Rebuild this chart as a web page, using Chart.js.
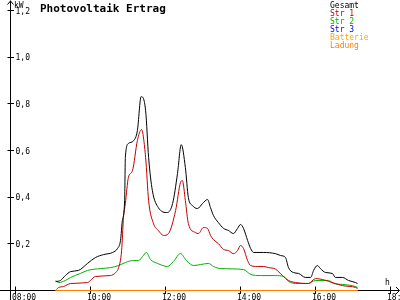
<!DOCTYPE html>
<html>
<head>
<meta charset="utf-8">
<script src="https://cdn.jsdelivr.net/npm/chart.js@4/dist/chart.umd.min.js"></script>
<style>
html,body{margin:0;padding:0;background:#fff;}
canvas{display:block;}
</style>
</head>
<body>
<canvas id="c" width="400" height="300"></canvas>
<script>
// ---- data (hours, kW) ----
const gesamtT = [9.07,9.2,9.33,9.47,9.68,9.92,10.13,10.35,10.59,10.72,10.8,10.85,10.91,10.93,11.01,11.15,11.25,11.35,11.47,11.55,11.65,11.81,12.05,12.19,12.32,12.42,12.53,12.61,12.72,12.85,12.99,13.12,13.2,13.28,13.41,13.55,13.68,13.81,13.92,14.0,14.08,14.19,14.27,14.35,14.61,14.93,15.07,15.2,15.28,15.41,15.55,15.73,15.87,15.95,16.05,16.13,16.27,16.45,16.53,16.72,16.88,17.07,17.12];
const gesamtV = [0.038,0.043,0.064,0.081,0.086,0.116,0.141,0.154,0.163,0.180,0.214,0.300,0.385,0.570,0.630,0.642,0.685,0.831,0.771,0.570,0.428,0.355,0.334,0.373,0.501,0.625,0.527,0.398,0.364,0.351,0.373,0.390,0.355,0.321,0.291,0.266,0.257,0.244,0.266,0.283,0.266,0.214,0.180,0.163,0.163,0.158,0.150,0.141,0.098,0.077,0.073,0.056,0.056,0.086,0.107,0.094,0.077,0.073,0.056,0.056,0.043,0.034,0.030];

const str1T = [9.09,9.15,9.28,9.47,9.92,10.0,10.13,10.53,10.67,10.75,10.83,10.88,10.93,11.01,11.12,11.25,11.36,11.47,11.55,11.68,11.81,11.95,12.08,12.27,12.4,12.45,12.53,12.61,12.8,12.88,13.01,13.12,13.2,13.28,13.41,13.55,13.68,13.81,13.92,14.0,14.08,14.19,14.27,14.45,14.61,14.75,14.93,15.12,15.28,15.47,15.81,16.0,16.19,16.35,16.53,16.72,17.07,17.12];
const str1V = [0.004,0.013,0.017,0.030,0.034,0.043,0.060,0.064,0.077,0.098,0.171,0.313,0.373,0.484,0.514,0.642,0.690,0.570,0.385,0.287,0.257,0.236,0.244,0.343,0.463,0.471,0.385,0.287,0.248,0.244,0.270,0.266,0.236,0.218,0.201,0.176,0.171,0.158,0.171,0.193,0.180,0.128,0.107,0.103,0.103,0.098,0.092,0.064,0.043,0.034,0.030,0.051,0.047,0.039,0.030,0.021,0.013,0.009];

const str2T = [9.07,9.15,9.33,9.47,9.73,9.92,10.27,10.53,10.75,10.93,11.12,11.28,11.39,11.49,11.6,11.79,12.05,12.21,12.4,12.56,12.75,12.93,13.15,13.28,13.47,14.08,14.27,14.53,14.93,15.15,15.28,15.47,15.81,16.0,16.35,16.48,16.72,17.07,17.12];
const str2V = [0.043,0.034,0.043,0.056,0.073,0.086,0.094,0.098,0.107,0.120,0.128,0.128,0.146,0.163,0.133,0.116,0.103,0.124,0.158,0.128,0.107,0.111,0.116,0.103,0.094,0.090,0.069,0.064,0.064,0.060,0.039,0.030,0.030,0.043,0.043,0.030,0.026,0.017,0.013];

const str3T = [9.07,17.12];
const str3V = [0,0];
const batterieT = [9.07,17.12];
const batterieV = [0,0];
const ladungT = [9.07,17.12];
const ladungV = [0,0];

const seriesNames = ["Gesamt","Str 1","Str 2","Str 3","Batterie","Ladung"];
const seriesColors = ["#000000","#c00000","#00b000","#0000ff","#ffa500","#ff8000"];

const yTicks = [0.2,0.4,0.6,0.8,1.0,1.2];
const yTickLabels = ["0,2","0,4","0,6","0,8","1,0","1,2"];
const xTicks = [8,10,12,14,16,18];
const xTickLabels = ["08:00","10:00","12:00","14:00","16:00","18:00"];

const titleText = "Photovoltaik Ertrag";
const yUnit = "kW";
const xUnit = "h";

function pts(t, v){ return t.map((x,i)=>({x:x, y:v[i]})); }

const FONT = '"DejaVu Sans Mono", monospace';

const axesPlugin = {
  id: 'axes',
  beforeDatasetsDraw(chart){
    const {ctx, scales:{x, y}} = chart;
    const ax = x.getPixelForValue(x.min);
    const ay = y.getPixelForValue(0);
    ctx.save();
    ctx.strokeStyle = '#000';
    ctx.fillStyle = '#000';
    ctx.lineWidth = 1;
    ctx.beginPath();
    // y axis
    ctx.moveTo(ax, 300); ctx.lineTo(ax, 0.5);
    ctx.moveTo(ax-3, 4.5); ctx.lineTo(ax, 1); ctx.lineTo(ax+3, 4.5);
    // x axis
    ctx.moveTo(0, ay); ctx.lineTo(399, ay);
    ctx.moveTo(396, ay-3.5); ctx.lineTo(399.5, ay); ctx.lineTo(396, ay+3.5);
    // y ticks
    yTicks.forEach(v=>{
      const py = Math.round(y.getPixelForValue(v)-0.5)+0.5;
      ctx.moveTo(ax-3, py); ctx.lineTo(ax+3.5, py);
    });
    // x ticks
    xTicks.forEach(t=>{
      const px = Math.round(x.getPixelForValue(t)-0.5)+0.5;
      ctx.moveTo(px, ay-4); ctx.lineTo(px, ay+3.5);
    });
    ctx.stroke();

    ctx.font = '8px ' + FONT;
    ctx.textAlign = 'left';
    ctx.textBaseline = 'middle';
    yTicks.forEach((v,i)=>{
      const py = y.getPixelForValue(v);
      ctx.fillText(yTickLabels[i], ax+5, py+1);
    });
    ctx.textBaseline = 'alphabetic';
    xTicks.forEach((t,i)=>{
      const px = x.getPixelForValue(t);
      ctx.fillText(xTickLabels[i], px-3.5, 299.5);
    });
    ctx.fillText(yUnit, ax+3.5, 7.5);
    ctx.fillText(xUnit, 385, 284.5);

    // title
    ctx.font = 'bold 11px ' + FONT;
    ctx.fillText(titleText, 40, 11.5);

    // legend
    ctx.font = '8px ' + FONT;
    seriesNames.forEach((n,i)=>{
      ctx.fillStyle = seriesColors[i];
      ctx.fillText(n, 330, 7.5 + 8*i);
    });
    ctx.restore();
  }
};

const series = [
  [gesamtT, gesamtV, 3],
  [str1T, str1V, 4],
  [str2T, str2V, 5],
  [str3T, str3V, 2],
  [batterieT, batterieV, 1],
  [ladungT, ladungV, 0]
];

new Chart(document.getElementById('c'), {
  type: 'line',
  data: {
    datasets: series.map((s,i)=>({
      label: seriesNames[i],
      data: pts(s[0], s[1]),
      borderColor: seriesColors[i],
      borderWidth: 1,
      pointRadius: 0,
      fill: false,
      cubicInterpolationMode: 'monotone',
      clip: false,
      order: s[2]
    }))
  },
  options: {
    responsive: false,
    animation: false,
    events: [],
    layout: { padding: { left: 10.5, right: 1.5, top: 10.5, bottom: 9.5 } },
    plugins: { legend: { display: false }, tooltip: { enabled: false }, title: { display: false } },
    scales: {
      x: { type: 'linear', display: false, min: 7.8667, max: 18.2133 },
      y: { type: 'linear', display: false, min: 0, max: 1.2 }
    }
  },
  plugins: [axesPlugin]
});
</script>
</body>
</html>
